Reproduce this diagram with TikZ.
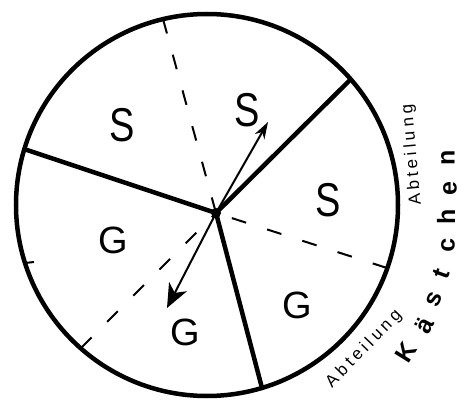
\documentclass[tikz,border=0pt]{standalone}
\usepackage{fontspec}
\setmainfont{Liberation Sans}
\usetikzlibrary{arrows.meta}
\begin{document}
\begin{tikzpicture}[x=1pt,y=-1pt,
  rim/.style={line width=4.5pt},
  spoke/.style={line width=4.5pt,line cap=round},
  dline/.style={line width=2pt,dash pattern=on 15pt off 22pt},
  pointer/.style={line width=2pt},
  big/.style={font=\fontsize{38}{38}\selectfont,inner sep=0pt},
  small/.style={font=\fontsize{17}{17}\selectfont\addfontfeature{LetterSpace=22},inner sep=0pt},
  hand/.style={font=\fontsize{25}{25}\selectfont\bfseries,inner sep=0pt}]
\useasboundingbox (0,0) rectangle (469,401);
\coordinate (c) at (207,205);
\coordinate (p) at (216,213);
% dashed dividers
\coordinate (dt) at (163,19);
\coordinate (dr) at (387,268);
\coordinate (dl) at (81,348);
\draw[dline] (dt) -- (p);
\draw[dline] (dr) -- (p);
\draw[dline] (dl) -- (p);
\coordinate (tk1) at (25,263);
\coordinate (tk2) at (34,262);
\draw[line width=2pt] (tk1) -- (tk2);
% rim
\draw[rim] (c) circle (191pt);
% solid spokes
\coordinate (e1) at (350,80);
\coordinate (e2) at (27,150);
\coordinate (e3) at (262,388);
\draw[spoke] (p) -- (e1);
\draw[spoke] (p) -- (e2);
\draw[spoke] (p) -- (e3);
% pointers
\coordinate (a1) at (268,122);
\coordinate (a2) at (167,308);
\draw[pointer,-{Stealth[length=17pt,width=11pt]}] (p) -- (a1);
\draw[pointer,-{Stealth[length=24pt,width=20pt,inset=7pt]}] (p) -- (a2);
\fill (p) circle (5pt);
% sector letters
\node[big,yscale=1.25] (s1) at (122,125) {S};
\node[big,yscale=1.25] (s2) at (247,110) {S};
\node[big,yscale=1.25] (s3) at (328,200) {S};
\node[big] (g1) at (113,240) {G};
\node[big] (g2) at (297,305) {G};
\node[big] (g3) at (185,332) {G};
% labels
\node[small,rotate=95] (ab1) at (412,155) {Abteilung};
\node[small,rotate=46] (ab2) at (364,349) {Abteilung};
\node[hand,rotate=58] (k1) at (406,352) {K};
\node[hand,rotate=62] (k2) at (424,325) {ä};
\node[hand,rotate=66] (k3) at (434,299) {s};
\node[hand,rotate=70] (k4) at (441,274) {t};
\node[hand,rotate=88] (k5) at (448,245) {c};
\node[hand,rotate=90] (k6) at (446,217) {h};
\node[hand,rotate=90] (k7) at (450,189) {e};
\node[hand,rotate=90] (k8) at (448,158) {n};
\end{tikzpicture}
\end{document}
